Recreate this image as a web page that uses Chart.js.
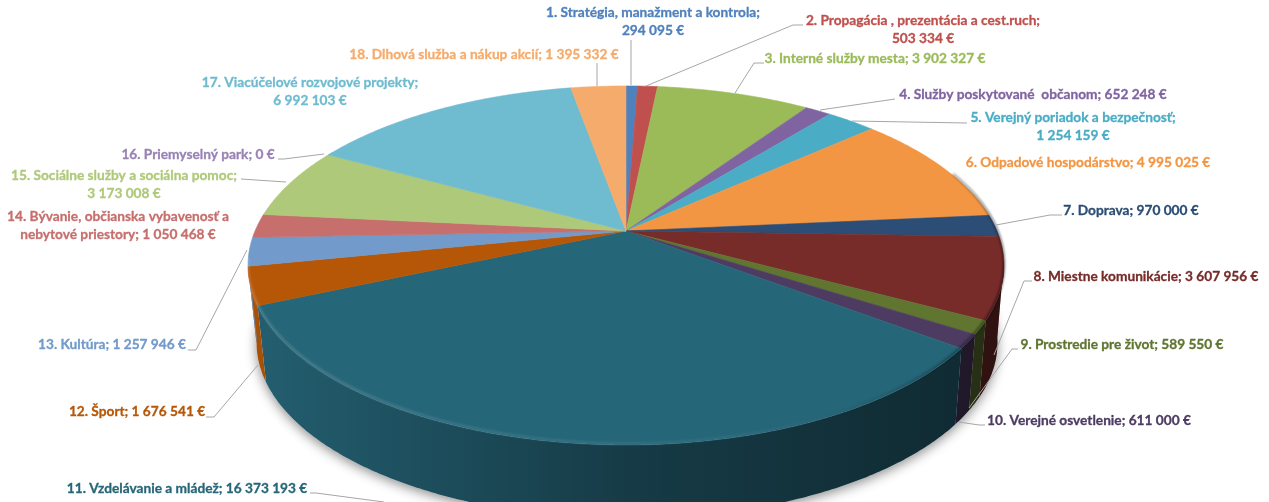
<!DOCTYPE html>
<html>
<head>
<meta charset="utf-8">
<title>Rozpočet</title>
<script src="https://cdn.jsdelivr.net/npm/chart.js@4"></script>
<style>
    html, body { margin: 0; padding: 0; background: #fff; overflow: hidden; }
    canvas { display: block; filter: blur(0.4px); }
</style>
</head>
<body>
<canvas id="piechart" width="1269" height="502"></canvas>
<script>
const categories = [
    'Stratégia, manažment a kontrola', 'Propagácia , prezentácia a cest.ruch', 'Interné služby mesta',
    'Služby poskytované  občanom', 'Verejný poriadok a bezpečnosť', 'Odpadové hospodárstvo',
    'Doprava', 'Miestne komunikácie', 'Prostredie pre život',
    'Verejné osvetlenie', 'Vzdelávanie a mládež', 'Šport',
    'Kultúra', 'Bývanie, občianska vybavenosť a\nnebytové priestory', 'Sociálne služby a sociálna pomoc',
    'Priemyselný park', 'Viacúčelové rozvojové projekty', 'Dlhová služba a nákup akcií'
];
const amounts = [
    294095, 503334, 3902327, 652248, 1254159, 4995025, 970000, 3607956, 589550,
    611000, 16373193, 1676541, 1257946, 1050468, 3173008, 0, 6992103, 1395332
];
const sliceColors = [
    '#4f81bd', '#c0504d', '#9bbb59', '#8064a2', '#4bacc6', '#f39643', '#2c4d75', '#772c2a', '#5f7530',
    '#4d3b62', '#266679', '#b65708', '#729aca', '#c66f6d', '#afc97a', '#9983b5', '#6fbbd0', '#f5ab6b'
];
// value goes on its own line for these
const valueOnNewLine = [0, 1, 4, 14, 16];

// label centre [x, y of first line]
const labelSpots = [
    [653, 13], [923, 21], [875, 59], [1033, 95], [1073, 118], [1088, 163], [1131, 211], [1146, 277], [1122, 345],
    [1089, 421], [187, 489], [137, 412], [112, 345], [118, 217], [124, 176], [198, 155], [310, 83], [484, 55]
];
const leaders = [
    [[631, 40], [631, 85]],
    [[803, 25], [793, 25], [646, 86]],
    [[764, 63], [754, 63], [735, 93]],
    [[895, 99], [820, 110]],
    [[967, 123], [852, 121]],
    null,
    [[1062, 215], [1050, 215], [996, 225]],
    [[1032, 281], [1024, 281], [994, 355]],
    [[1018, 349], [1012, 349], [969, 408]],
    [[985, 425], [979, 425], [959, 422]],
    [[310, 493], [316, 493], [384, 502]],
    [[206, 417], [214, 417], [258, 365]],
    [[188, 350], [196, 350], [247, 250]],
    null,
    [[241, 179], [286, 182]],
    [[278, 159], [284, 159], [324, 154]],
    null,
    [[597, 63], [597, 86]]
];

// perspective of the tilted disc, relative to the radius the library gives us
const tilt = { k: 0.192, sx: 1.606, sy: 0.7485, depth: 78, bottomScale: 0.98, bottomShift: 1 };

function project(el, t, level) {
    const d = 1 - tilt.k * Math.sin(t);
    const x = el.outerRadius * tilt.sx * Math.cos(t) / d;
    const y = el.outerRadius * tilt.sy * Math.sin(t) / d;
    if (level === 'bottom') {
        return {
            x: el.x + x * tilt.bottomScale + tilt.bottomShift,
            y: el.y + y * tilt.bottomScale + tilt.depth
        };
    }
    return { x: el.x + x, y: el.y + y - (level || 0) };
}

function traceRim(ctx, el, from, to, level, first) {
    const steps = Math.max(2, Math.ceil(Math.abs(to - from) / 0.01));
    for (let i = 0; i <= steps; i++) {
        const p = project(el, from + (to - from) * i / steps, level);
        if (i === 0 && first) ctx.moveTo(p.x, p.y);
        else ctx.lineTo(p.x, p.y);
    }
}

function formatAmount(v) {
    return String(v).replace(/\B(?=(\d{3})+$)/g, ' ');
}

const pie3d = {
    id: 'pie3d',
    // the library works out the angles, we only draw them tilted
    beforeDatasetDraw(chart) {
        const ctx = chart.ctx;
        const arcs = chart.getDatasetMeta(0).data;
        const first = arcs[0];
        const sideFrom = Math.asin(tilt.k) - 0.03;
        const sideTo = Math.PI - sideFrom;

        // shadow under the disc
        ctx.save();
        ctx.shadowColor = 'rgba(0,0,0,0.45)';
        ctx.shadowBlur = 12;
        ctx.shadowOffsetY = 3;
        ctx.fillStyle = '#fff';
        ctx.beginPath();
        traceRim(ctx, first, 0, Math.PI * 2, 'bottom', true);
        ctx.closePath();
        ctx.fill();
        ctx.restore();

        const left = first.x - first.outerRadius * tilt.sx;
        const right = first.x + first.outerRadius * tilt.sx;

        // outer wall
        arcs.forEach(function (el, i) {
            const a = Math.max(el.startAngle, sideFrom);
            const b = Math.min(el.endAngle, sideTo);
            if (b <= a) return;
            ctx.beginPath();
            traceRim(ctx, el, a, b, 0, true);
            traceRim(ctx, el, b, a, 'bottom', false);
            ctx.closePath();
            ctx.fillStyle = sliceColors[i];
            ctx.fill();
            const shade = ctx.createLinearGradient(left, 0, right, 0);
            shade.addColorStop(0, 'rgba(0,0,0,0.08)');
            shade.addColorStop(0.5, 'rgba(0,0,0,0.42)');
            shade.addColorStop(1, 'rgba(0,0,0,0.6)');
            ctx.fillStyle = shade;
            ctx.fill();
        });

        // top face
        arcs.forEach(function (el, i) {
            if (el.endAngle - el.startAngle <= 0) return;
            ctx.beginPath();
            ctx.moveTo(el.x, el.y);
            traceRim(ctx, el, el.startAngle, el.endAngle, 0, false);
            ctx.closePath();
            ctx.fillStyle = sliceColors[i];
            ctx.strokeStyle = sliceColors[i];
            ctx.lineWidth = 0.6;
            ctx.fill();
            ctx.stroke();
        });

        // soft bevel along the front rim
        ctx.save();
        ctx.filter = 'blur(1.2px)';
        const bevel = ctx.createLinearGradient(left, 0, right, 0);
        bevel.addColorStop(0, 'rgba(255,255,255,0.16)');
        bevel.addColorStop(0.6, 'rgba(255,255,255,0.05)');
        bevel.addColorStop(0.85, 'rgba(0,0,0,0.1)');
        bevel.addColorStop(1, 'rgba(0,0,0,0.45)');
        ctx.strokeStyle = bevel;
        ctx.lineWidth = 2.5;
        ctx.beginPath();
        traceRim(ctx, first, -0.35, sideTo, 1.5, true);
        ctx.stroke();
        ctx.restore();

        return false;
    },
    afterDraw(chart) {
        const ctx = chart.ctx;
        ctx.save();

        ctx.strokeStyle = '#a6a6a6';
        ctx.lineWidth = 1;
        leaders.forEach(function (line) {
            if (!line) return;
            ctx.beginPath();
            line.forEach(function (p, j) {
                if (j === 0) ctx.moveTo(p[0], p[1]);
                else ctx.lineTo(p[0], p[1]);
            });
            ctx.stroke();
        });

        ctx.font = 'bold 13.7px Lato';
        ctx.textAlign = 'center';
        ctx.textBaseline = 'middle';
        ctx.lineWidth = 0.3;
        categories.forEach(function (name, i) {
            const sep = valueOnNewLine.includes(i) ? ';\n' : '; ';
            const text = (i + 1) + '. ' + name + sep + formatAmount(amounts[i]) + ' €';
            ctx.fillStyle = sliceColors[i];
            ctx.strokeStyle = sliceColors[i];
            text.split('\n').forEach(function (line, j) {
                ctx.fillText(line, labelSpots[i][0], labelSpots[i][1] + j * 18);
                ctx.strokeText(line, labelSpots[i][0], labelSpots[i][1] + j * 18);
            });
        });
        ctx.restore();
    }
};

const piechart = new Chart(document.getElementById('piechart').getContext('2d'), {
    type: 'pie',
    data: {
        labels: categories,
        datasets: [{
            data: amounts,
            backgroundColor: sliceColors,
            borderWidth: 0
        }]
    },
    options: {
        responsive: false,
        animation: false,
        devicePixelRatio: 1,
        layout: { padding: { top: 0, bottom: 40, left: 0, right: 17 } },
        plugins: {
            legend: { display: false },
            tooltip: { enabled: false }
        }
    },
    plugins: [pie3d]
});
</script>
</body>
</html>
